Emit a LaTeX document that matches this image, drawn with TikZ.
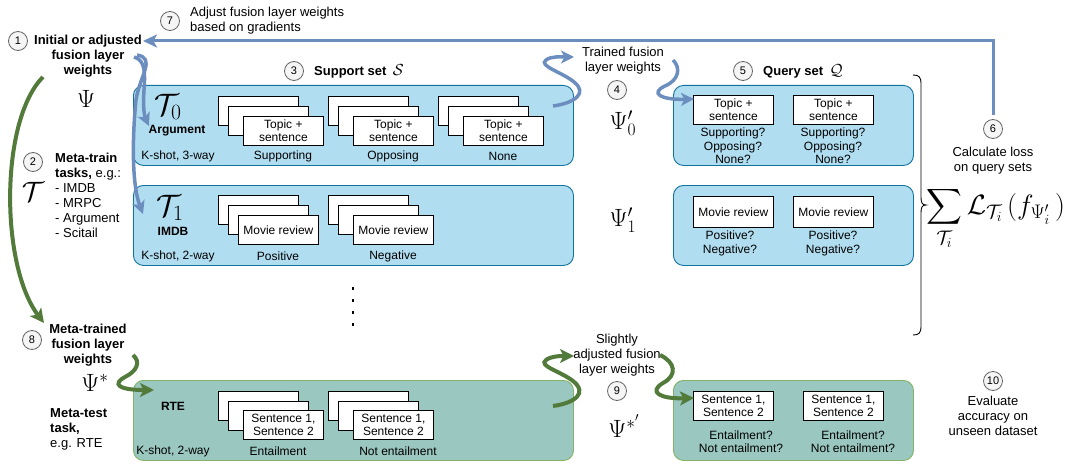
\RequirePackage{fix-cm}
\documentclass[tikz,border=0pt]{standalone}
\usepackage{exscale}
\usepackage[no-math]{fontspec}
\setmainfont{Liberation Sans}
\usetikzlibrary{arrows.meta}

\definecolor{setfill}{HTML}{B1DDF0}
\definecolor{setedge}{HTML}{10739E}
\definecolor{testfill}{HTML}{9AC7BF}
\definecolor{testedge}{HTML}{82B366}
\definecolor{flowblue}{HTML}{6C8EBF}
\definecolor{flowgreen}{HTML}{527A3A}
\definecolor{numedge}{HTML}{666666}
\definecolor{numfill}{HTML}{F5F5F5}

\newcommand{\fsLabel}{\fontsize{13}{15}\selectfont}
\newcommand{\fsInner}{\fontsize{12}{13.5}\selectfont}

% a stack of three cards: name, x, y of the back card, offset of the front card, front text
\newcommand{\cardstack}[6]{%
  \node[card, anchor=north west] (#1b) at (#2,#3) {};
  \node[card, anchor=north west] (#1m) at (#2+10,#3+10) {};
  \node[card, anchor=north west] (#1f) at (#2+#4,#3+#5) {#6};}

\begin{document}
\begin{tikzpicture}[x=1pt,y=-1pt,
  lbl/.style={font=\fsLabel, align=center, inner sep=0pt},
  lblL/.style={font=\fsLabel, align=left, inner sep=0pt, anchor=west},
  inbox/.style={font=\fsInner, align=center, inner sep=0pt},
  num/.style={circle, draw=numedge, fill=numfill, line width=0.8pt, minimum size=19pt,
              inner sep=0pt, font=\fontsize{11}{11}\selectfont},
  supportset/.style={draw=setedge, fill=setfill, line width=0.9pt, rounded corners=10pt,
                     anchor=north west, minimum height=80pt},
  testset/.style={draw=testedge, fill=testfill, line width=0.9pt, rounded corners=10pt,
                  anchor=north west, minimum height=80pt},
  card/.style={draw=black, fill=white, line width=0.8pt, minimum width=80pt, minimum height=29pt,
               inner sep=0pt, align=center, font=\fsInner},
  bigmath/.style={inner sep=0pt, font=\fontsize{25}{25}\selectfont},
  taskmath/.style={inner sep=0pt, font=\fontsize{31}{31}\selectfont},
  flowB/.style={draw=flowblue, line width=3.5pt, -{Stealth[length=13pt,width=13pt,inset=3.5pt]}},
  flowG/.style={draw=flowgreen, line width=4pt, -{Stealth[length=14pt,width=14pt,inset=3.5pt]}},
  fb/.style={draw=flowblue, line width=3pt, -{Stealth[length=14pt,width=13pt,inset=3.5pt]}}]
\useasboundingbox (0,0) rectangle (1084,476);

% ---------- task sets ----------
\node[supportset, minimum width=440pt] (sup0) at (133,85) {};
\node[supportset, minimum width=440pt] (sup1) at (133,185) {};
\node[testset,    minimum width=440pt] (sup2) at (133,380) {};
\node[supportset, minimum width=240pt] (qry0) at (673,85) {};
\node[supportset, minimum width=240pt] (qry1) at (673,185) {};
\node[testset,    minimum width=240pt] (qry2) at (673,380) {};

% ---------- support examples ----------
\cardstack{a1}{218}{96}{25}{20}{Topic +\\sentence}
\cardstack{a2}{328}{96}{25}{20}{Topic +\\sentence}
\cardstack{a3}{438}{96}{25}{20}{Topic +\\sentence}
\cardstack{m1}{218}{195}{20}{20}{Movie review}
\cardstack{m2}{328}{195}{25}{20}{Movie review}
\cardstack{r1}{218}{391}{25}{19}{Sentence 1,\\Sentence 2}
\cardstack{r2}{328}{391}{25}{19}{Sentence 1,\\Sentence 2}

\node[inbox] (la1) at (283,156) {Supporting};
\node[inbox] (la2) at (393,156) {Opposing};
\node[inbox] (la3) at (503,156) {None};
\node[inbox] (lm1) at (278,256) {Positive};
\node[inbox] (lm2) at (393,256) {Negative};
\node[inbox] (lr1) at (278,451) {Entailment};
\node[inbox] (lr2) at (398,451) {Not entailment};

\node[inbox] (k0) at (178,156) {K-shot, 3-way};
\node[inbox] (k1) at (178,256) {K-shot, 2-way};
\node[inbox] (k2) at (173,451) {K-shot, 2-way};

\node[taskmath] (t0) at (168,107) {$\mathcal{T}_0$};
\node[inbox, font=\fsInner\bfseries] (t0n) at (177,131) {Argument};
\node[taskmath] (t1) at (170,208) {$\mathcal{T}_1$};
\node[inbox, font=\fsInner\bfseries] (t1n) at (173,231) {IMDB};
\node[inbox, font=\fsInner\bfseries] (t2n) at (173,406) {RTE};

% ---------- query examples ----------
\node[card, anchor=north west] (qa1) at (693,95) {Topic +\\sentence};
\node[card, anchor=north west] (qa2) at (793,95) {Topic +\\sentence};
\node[card, anchor=north west, minimum height=31pt] (qm1) at (693,196) {Movie review};
\node[card, anchor=north west, minimum height=31pt] (qm2) at (793,196) {Movie review};
\node[card, anchor=north west] (qr1) at (693,391) {Sentence 1,\\Sentence 2};
\node[card, anchor=north west] (qr2) at (803,391) {Sentence 1,\\Sentence 2};

\node[inbox] (qla1) at (733,146) {Supporting?\\Opposing?\\None?};
\node[inbox] (qla2) at (833,146) {Supporting?\\Opposing?\\None?};
\node[inbox] (qlm1) at (730,243.5) {Positive?\\Negative?};
\node[inbox] (qlm2) at (833,243.5) {Positive?\\Negative?};
\node[inbox] (qlr1) at (741,441.5) {Entailment?\\Not entailment?};
\node[inbox] (qlr2) at (853,441.5) {Entailment?\\Not entailment?};

% ---------- further tasks ----------
\foreach \yy in {287,299,311,323} \fill (351.5,\yy) rectangle ++(2.5,2.5);

% ---------- step markers ----------
\node[num] (n1) at (18,41) {1};
\node[num] (n2) at (33,162) {2};
\node[num] (n3) at (294,71) {3};
\node[num] (n4) at (617,90) {4};
\node[num] (n5) at (743,71) {5};
\node[num] (n6) at (993,129) {6};
\node[num] (n7) at (170,21) {7};
\node[num] (n8) at (32,340) {8};
\node[num] (n9) at (617,391) {9};
\node[num] (n10) at (993,381) {10};

% ---------- labels ----------
\node[lbl, font=\fsLabel\bfseries] (lab1) at (88,56) {Initial or adjusted\\fusion layer\\weights};
\node[lblL] (lab7) at (190,21) {Adjust fusion layer weights\\based on gradients};
\node[lblL] (lab2) at (55,195.5) {\textbf{Meta-train}\\\textbf{tasks,} e.g.:\\- IMDB\\- MRPC\\- Argument\\- Scitail};
\node[lbl, anchor=west] (h3) at (314,71) {\textbf{Support set}\enspace{\fontsize{16}{16}\selectfont$\mathcal{S}$}};
\node[lbl, anchor=west] (h5) at (763,71) {\textbf{Query set}\enspace{\fontsize{16}{16}\selectfont$\mathcal{Q}$}};
\node[lbl] (lab4) at (623,60.5) {Trained fusion\\layer weights};
\node[lbl] (lab6) at (993,161) {Calculate loss\\on query sets};
\node[lbl, font=\fsLabel\bfseries] (lab8) at (88,345) {Meta-trained\\fusion layer\\weights};
\node[lblL] (labtest) at (50,429) {\textbf{Meta-test}\\\textbf{task,}\\e.g. RTE};
\node[lbl] (lab9) at (617,355) {Slightly\\adjusted fusion\\layer weights};
\node[lbl] (lab10) at (993,416) {Evaluate\\accuracy on\\unseen dataset};

% ---------- parameters ----------
\node[inner sep=0pt, font=\fontsize{28}{28}\selectfont] (tau) at (33,192) {$\mathcal{T}$};
\node[bigmath] (psi) at (86,99) {$\Psi$};
\node[bigmath] (psi0) at (623,123) {$\Psi'_0$};
\node[bigmath] (psi1) at (623,220) {$\Psi'_1$};
\node[bigmath] (psis) at (95,383) {$\Psi^{*}$};
\node[bigmath] (psisp) at (624,426) {$\Psi^{{*}^{\prime}}$};
\node[inner sep=0pt, anchor=base west, font=\fontsize{28}{32}\selectfont] (loss) at (926,214)
  {$\displaystyle\sum_{\mathcal{T}_i}\mathcal{L}_{\mathcal{T}_i}\,(f_{\Psi'_i}\,)$};

% brace gathering the query losses
\draw[line width=0.9pt] (913,75) .. controls (919,75) and (921,77) .. (921,84) -- (921,196)
  .. controls (921,203) and (922,205) .. (926,205) .. controls (922,205) and (921,207) .. (921,214)
  -- (921,326) .. controls (921,333) and (919,335) .. (913,335);

% ---------- flows ----------
\coordinate (w1a) at (134,57);
\coordinate (w1b) at (137,55);
\coordinate (t0in) at (149,126);
\coordinate (t1in) at (143,214);
\draw[flowB] (w1a) .. controls (146,60) and (145,75) .. (144,90) .. controls (143,105) and (144,115) .. (t0in);
\draw[flowB] (w1b) .. controls (156,58) and (140,75) .. (136,100) .. controls (132,140) and (132,185) .. (t1in);

\coordinate (s0out) at (553,106);
\coordinate (trin) at (574,57);
\draw[flowB] (s0out) .. controls (575,103) and (588,93) .. (574,82) .. controls (562,72) and (538,66) .. (546,60) .. controls (551,56) and (561,57) .. (trin);
\coordinate (trout) at (673,60);
\coordinate (q0in) at (694,99);
\draw[flowB] (trout) .. controls (681,68) and (679,80) .. (665,86) .. controls (650,93) and (660,100) .. (q0in);

\coordinate (fbin) at (143,41);
\draw[fb] ([yshift=4pt]n6.north) |- (fbin);

\coordinate (g1a) at (43,77);
\coordinate (g8in) at (44,323);
\draw[flowG] (g1a) .. controls (0,120) and (0,265) .. (g8in);

\coordinate (g8out) at (133,355);
\coordinate (rtein) at (154,390);
\draw[flowG] (g8out) .. controls (141,362) and (137,371) .. (125,377) .. controls (112,384) and (118,390) .. (rtein);

\coordinate (s2out) at (553,406);
\coordinate (slin) at (574,356);
\draw[flowG] (s2out) .. controls (575,403) and (588,393) .. (573,381) .. controls (560,371) and (538,366) .. (546,360) .. controls (551,356) and (561,356) .. (slin);
\coordinate (slout) at (660,355);
\coordinate (q2in) at (694,398);
\draw[flowG] (slout) .. controls (675,362) and (678,375) .. (663,383) .. controls (648,392) and (660,399) .. (q2in);
\end{tikzpicture}
\end{document}
